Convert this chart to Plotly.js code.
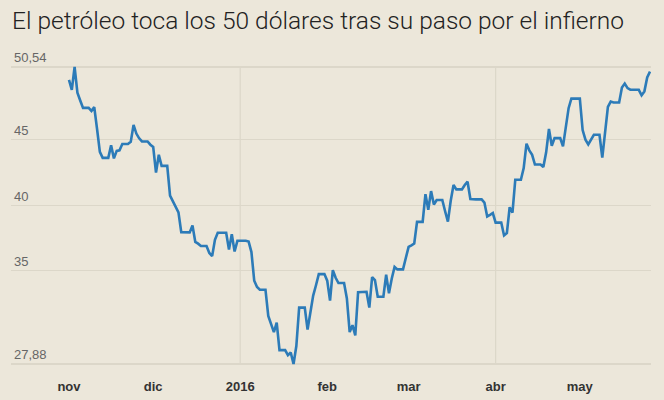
<!DOCTYPE html>
<html>
<head>
<meta charset="utf-8">
<script src="https://cdn.plot.ly/plotly-3.0.1.min.js"></script>
<style>
  html, body { margin: 0; padding: 0; background: #ECE7DA; }
  #chart { width: 664px; height: 400px; }
</style>
</head>
<body>
<div id="chart"></div>
<script>
// Brent daily price (calendar days, weekends carry Friday close), USD
const startDate = '2015-11-01';
const nov15 = [49.56,48.79,50.54,48.58,47.98,47.42,47.42,47.42,47.19,47.48,45.81,44.06,43.61,43.61,43.61,44.56,43.57,44.14,44.18,44.66,44.66,44.66,44.83,46.12,45.46,45.10,44.86,44.86,44.86,44.61];
const dic15 = [44.44,42.49,43.84,43.00,43.00,43.00,40.73,40.26,39.89,39.45,37.93,37.93,37.93,37.92,38.45,37.19,37.06,36.88,36.88,36.88,36.35,36.11,37.36,37.89,37.89,37.89,37.89,36.62,37.79,36.46,37.28];
const ene16 = [37.28,37.28,37.28,37.22,36.42,34.23,33.75,33.55,33.55,33.55,31.55,30.86,30.31,31.03,28.94,28.94,28.94,28.55,28.76,27.88,29.25,32.18,32.18,32.18,30.50,31.80,33.10,33.89,34.74,34.74,34.74];
const feb16 = [34.24,32.72,35.04,34.46,34.06,34.06,34.06,32.88,30.32,30.84,30.06,33.36,33.36,33.36,33.39,32.18,34.50,34.28,33.01,33.01,33.01,34.69,33.27,34.41,35.29,35.10,35.10,35.10,35.97];
const mar16 = [36.81,36.93,37.07,38.72,38.72,38.72,40.84,39.65,41.07,40.05,40.39,40.39,40.39,39.53,38.74,40.33,41.54,41.20,41.20,41.20,41.54,41.79,40.47,40.44,40.44,40.44,40.44,40.20,39.14,39.26,39.40];
const abr16 = [38.67,38.67,38.67,37.69,37.87,39.84,39.43,41.94,41.94,41.94,42.83,44.69,44.18,43.84,43.10,43.10,43.10,42.91,44.03,45.81,44.53,45.11,45.11,45.11,44.48,46.10,47.40,48.14,48.13,48.13];
const may16 = [48.13,45.73,45.00,44.64,44.97,45.37,45.37,45.37,43.62,45.52,47.50,47.90,47.83,47.83,47.83,48.97,49.28,48.93,48.81,48.80,48.80,48.80,48.38,48.68,49.74,50.20];

const yTickVals = [27.88, 35, 40, 45, 50.54];
const yTickText = ['27,88', '35', '40', '45', '50,54'];
const xTickVals = ['2015-11-01','2015-12-01','2016-01-01','2016-02-01','2016-03-01','2016-04-01','2016-05-01'];
const xTickText = ['nov','dic','2016','feb','mar','abr','may'];
const quarterLines = ['2016-01-01','2016-04-01'];
const titleText = 'El petróleo toca los 50 dólares tras su paso por el infierno';

const values = [].concat(nov15, dic15, ene16, feb16, mar16, abr16, may16);
const dates = [];
{
  const d0 = new Date(startDate + 'T00:00:00Z');
  for (let i = 0; i < values.length; i++) {
    const d = new Date(d0.getTime() + i * 86400000);
    dates.push(d.toISOString().slice(0, 10));
  }
}

const bg = '#ECE7DA';
const grid = '#DCD7C9';

const trace = {
  x: dates, y: values, type: 'scatter', mode: 'lines',
  line: { color: '#2C7BB8', width: 2.6 },
  hoverinfo: 'skip'
};

const layout = {
  width: 664, height: 400,
  paper_bgcolor: bg, plot_bgcolor: bg,
  margin: { l: 11, r: 13, t: 64, b: 33 },
  showlegend: false,
  title: {
    text: titleText,
    font: { family: 'Roboto, "Liberation Sans", sans-serif', size: 24.5, color: '#222222', weight: 300 },
    xref: 'container', yref: 'container',
    x: 12 / 664, xanchor: 'left',
    y: 1 - 20 / 400, yanchor: 'middle'
  },
  xaxis: {
    type: 'date',
    range: ['2015-10-11 08:10', '2016-05-26 08:30'],
    tickvals: xTickVals, ticktext: xTickText,
    showgrid: false, zeroline: false, showline: false,
    ticks: '', ticklabelstandoff: 10,
    tickfont: { family: '"Liberation Sans", Arial, sans-serif', size: 13, color: '#333333', weight: 'bold' },
    fixedrange: true
  },
  yaxis: {
    range: [27.651, 50.769],
    tickvals: yTickVals, ticktext: yTickText,
    ticklabelposition: 'inside top',
    ticklabeloverflow: 'allow',
    showgrid: true, gridcolor: grid, gridwidth: 1.2,
    zeroline: false, showline: false, ticks: '',
    tickfont: { family: '"Liberation Sans", Arial, sans-serif', size: 13, color: '#666666' },
    fixedrange: true
  },
  shapes: quarterLines.map(d => ({
    type: 'line', xref: 'x', yref: 'y', x0: d, x1: d, y0: 27.88, y1: 50.54,
    line: { color: grid, width: 1.2 }, layer: 'below'
  }))
};

Plotly.newPlot('chart', [trace], layout, { displayModeBar: false, staticPlot: true });
</script>
</body>
</html>
